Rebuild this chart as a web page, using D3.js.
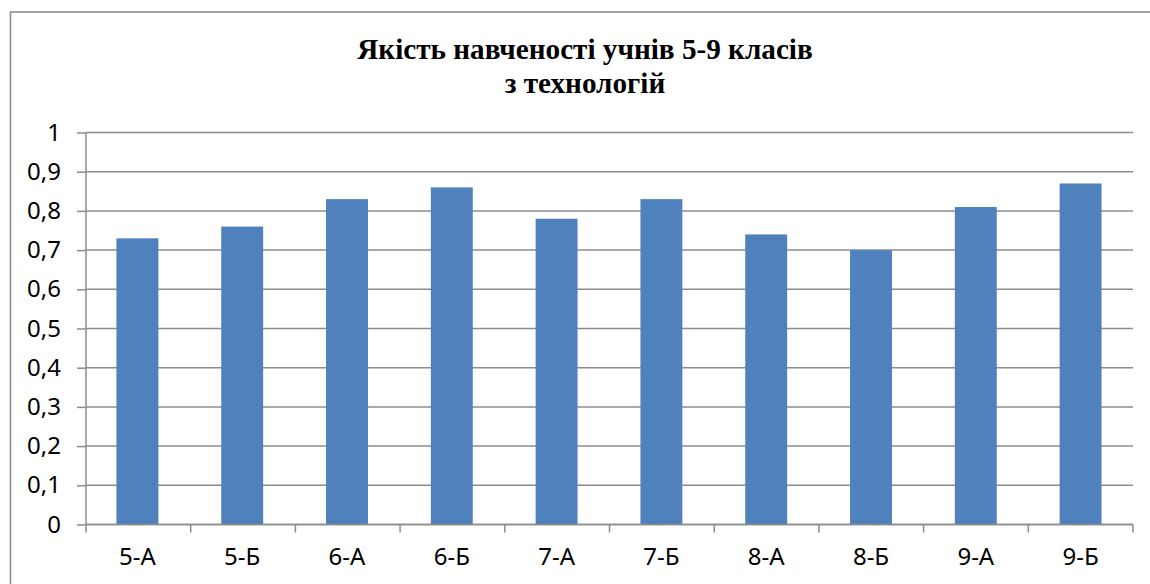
<!DOCTYPE html>
<html>
<head>
<meta charset="utf-8">
<script src="https://cdn.jsdelivr.net/npm/d3@7"></script>
<style>
    body { margin: 0; background: #fff; }
    svg { display: block; }
    .tick text { font-family: "Noto Sans", sans-serif; font-size: 24px; fill: #000; }
</style>
</head>
<body>
<svg id="chart" width="1150" height="584"></svg>
<script>
// Data
const classes = ["5-А", "5-Б", "6-А", "6-Б", "7-А", "7-Б", "8-А", "8-Б", "9-А", "9-Б"]
const quality = [0.73, 0.76, 0.83, 0.86, 0.78, 0.83, 0.74, 0.70, 0.81, 0.87]
const yTicks = [0, 0.1, 0.2, 0.3, 0.4, 0.5, 0.6, 0.7, 0.8, 0.9, 1]
const titleLines = ["Якість навченості учнів 5-9 класів", "з технологій"]

const config = {
    width: 1150,
    height: 584,
    margin: { left: 86, top: 132.5, right: 17, bottom: 59.5 },
    barColor: "#4f81bd",
    gridColor: "#8c8c8c"
}

const svg = d3.select("#chart")
const figW = config.width - config.margin.left - config.margin.right
const figH = config.height - config.margin.top - config.margin.bottom

// outer frame (only top + left edges visible in the picture)
svg.append("rect")
    .attr("x", 10.5).attr("y", 12)
    .attr("width", 1300).attr("height", 700)
    .attr("fill", "none")
    .attr("stroke", "#8c8c8c")
    .attr("stroke-width", 1.6)

const title = svg.append("text")
    .attr("text-anchor", "middle")
    .attr("font-family", "'Liberation Serif', 'Times New Roman', serif")
    .attr("font-weight", "bold")
    .attr("font-size", 29.2)
title.selectAll("tspan")
    .data(titleLines)
    .join("tspan")
    .attr("x", 585)
    .attr("y", (d, i) => 59 + i * 34)
    .text(d => d)

const fig = svg.append("g")
    .attr("transform", "translate(" + config.margin.left + "," + config.margin.top + ")")

const x = d3.scaleBand()
    .domain(classes)
    .range([-1, figW])
    .paddingInner(0.6)
    .paddingOuter(0.3)

const y = d3.scaleLinear()
    .domain([0, 1])
    .range([figH, 0])

// gridlines
fig.append("g")
    .selectAll("line")
    .data(yTicks)
    .join("line")
    .attr("x1", 0).attr("x2", figW)
    .attr("y1", d => y(d)).attr("y2", d => y(d))
    .attr("stroke", config.gridColor)
    .attr("stroke-width", 1.5)

// bars
fig.append("g")
    .selectAll("rect")
    .data(quality)
    .join("rect")
    .attr("x", (d, i) => x(classes[i]))
    .attr("y", d => y(d))
    .attr("width", x.bandwidth())
    .attr("height", d => figH - y(d))
    .attr("fill", config.barColor)

// y axis
const yAxis = d3.axisLeft(y)
    .tickValues(yTicks)
    .tickSize(9)
    .tickPadding(16)
    .tickFormat(d => d3.format(".1~f")(d).replace(".", ","))
fig.append("g")
    .call(yAxis)
    .call(g => g.selectAll("line, path").attr("stroke", config.gridColor).attr("stroke-width", 1.5))
    .call(g => g.select(".domain").attr("d", "M0,0V" + figH))

// x axis with ticks between categories
const xAxis = d3.axisBottom(x).tickSize(0).tickPadding(23)
const xg = fig.append("g")
    .attr("transform", "translate(0," + figH + ")")
    .call(xAxis)
xg.select(".domain").attr("d", "M0,0H" + figW).attr("stroke", config.gridColor).attr("stroke-width", 1.5)
xg.selectAll(".tick text").attr("dy", "0.71em")
xg.append("g")
    .selectAll("line")
    .data(d3.range(classes.length + 1))
    .join("line")
    .attr("x1", i => i * figW / classes.length)
    .attr("x2", i => i * figW / classes.length)
    .attr("y1", 0).attr("y2", 8)
    .attr("stroke", config.gridColor)
    .attr("stroke-width", 1.5)
</script>
</body>
</html>
